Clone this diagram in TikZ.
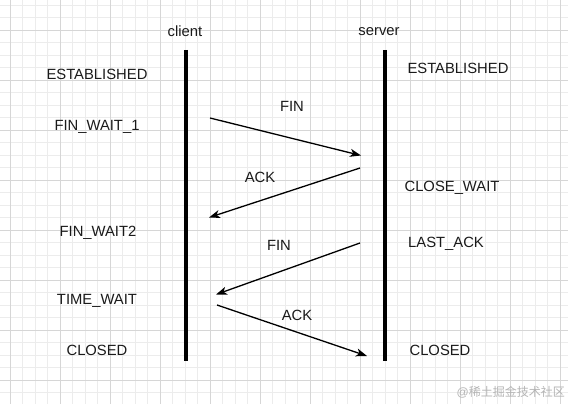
\documentclass[tikz,border=0pt]{standalone}
\usepackage{fontspec}
\setmainfont{Liberation Sans}
\newfontfamily\cjk{Noto Sans CJK SC}
\usetikzlibrary{arrows.meta}
\definecolor{minorgrid}{HTML}{ECECEC}
\definecolor{majorgrid}{HTML}{D6D6D6}
\definecolor{txt}{HTML}{1A1A1A}
\definecolor{wm}{HTML}{B4B4B4}
\tikzset{
  minorline/.style={draw=minorgrid, line width=0.8pt},
  majorline/.style={draw=majorgrid, line width=0.8pt},
  lifeline/.style={line width=4pt, black},
  msg/.style={line width=1.3pt, black, -{Stealth[length=11pt,width=8pt,inset=3pt]}},
  lbl/.style={font=\fontsize{14.8}{17}\selectfont, text=txt, inner sep=0pt, anchor=center, yshift=-1.5pt}
}
\begin{document}
\begin{tikzpicture}[x=1pt,y=-1pt]
\useasboundingbox (0,0) rectangle (568,404);
\fill[white] (0,0) rectangle (568,404);
\begin{scope}
\clip (0,0) rectangle (568,404);
\foreach \i in {0,...,46} \draw[minorline] ({-2.5+12.5*\i},0) -- ({-2.5+12.5*\i},404);
\foreach \j in {0,...,32} \draw[minorline] (0,{5+12.5*\j}) -- (568,{5+12.5*\j});
\foreach \i in {0,...,11} \draw[majorline] ({10+50*\i},0) -- ({10+50*\i},404);
\foreach \j in {0,...,7} \draw[majorline] (0,{30+50*\j}) -- (568,{30+50*\j});
\end{scope}

% lifelines
\coordinate (ctop) at (186,50);
\coordinate (cbot) at (186,361);
\coordinate (stop) at (385,50);
\coordinate (sbot) at (385,361);
\draw[lifeline] (ctop) -- (cbot);
\draw[lifeline] (stop) -- (sbot);

\node[lbl] (client) at (185,30) {client};
\node[lbl] (server) at (379,30) {server};

% client states
\node[lbl] (cest) at (97,73) {ESTABLISHED};
\node[lbl] (cfw1) at (97,125) {FIN\_WAIT\_1};
\node[lbl] (cfw2) at (98,231) {FIN\_WAIT2};
\node[lbl] (ctw) at (97,299) {TIME\_WAIT};
\node[lbl] (ccl) at (97,349) {CLOSED};

% server states
\node[lbl] (sest) at (458,67) {ESTABLISHED};
\node[lbl] (scw) at (452,186) {CLOSE\_WAIT};
\node[lbl] (sla) at (446,242) {LAST\_ACK};
\node[lbl] (scl) at (440,349) {CLOSED};

% messages
\coordinate (m1a) at (210,118);
\coordinate (m1b) at (361,155.5);
\coordinate (m2a) at (360,168);
\coordinate (m2b) at (209,217.5);
\coordinate (m3a) at (360,243);
\coordinate (m3b) at (216,294.5);
\coordinate (m4a) at (217,305);
\coordinate (m4b) at (367,356);
\draw[msg] (m1a) -- (m1b);
\draw[msg] (m2a) -- (m2b);
\draw[msg] (m3a) -- (m3b);
\draw[msg] (m4a) -- (m4b);

\node[lbl] (fin1) at (292,105) {FIN};
\node[lbl] (ack1) at (260,176) {ACK};
\node[lbl] (fin2) at (279,244) {FIN};
\node[lbl] (ack2) at (297,314) {ACK};

\node[font=\fontsize{12}{14}\selectfont, text=wm, inner sep=0pt, anchor=east] (wmark) at (565,392) {@\cjk 稀土掘金技术社区};
\end{tikzpicture}
\end{document}
